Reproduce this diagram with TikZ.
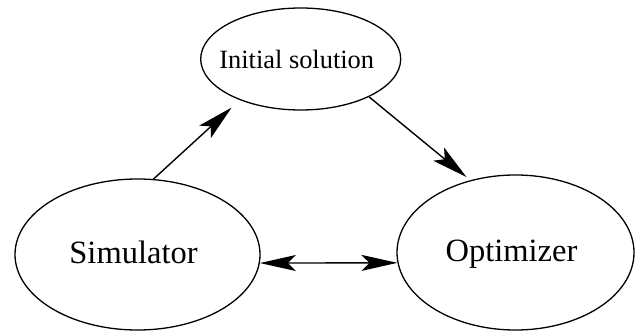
\documentclass[tikz,border=0pt]{standalone}
\usepackage{fontspec}
\setmainfont{Liberation Serif}
\usetikzlibrary{shapes.geometric,arrows.meta}

\tikzset{
  blob/.style={ellipse, draw, line width=1.3pt, inner sep=0pt},
  head/.style={Stealth[length=36pt,width=17pt,inset=8pt]},
  flow/.style={line width=1.4pt, -{Stealth[length=36pt,width=17pt,inset=8pt]}},
  twoway/.style={line width=1.4pt, {Stealth[length=36pt,width=16pt,inset=8pt]}-{Stealth[length=36pt,width=16pt,inset=8pt]}},
  % zero-height text box: the label's centre sits on its baseline
  flat/.style={text height=0pt, text depth=0pt, inner sep=0pt},
  small/.style={flat, font=\fontsize{26.4}{30}\selectfont},
  big/.style={flat, font=\fontsize{32.5}{36}\selectfont},
}

\begin{document}
\begin{tikzpicture}[x=1pt, y=-1pt]
  \useasboundingbox (0,0) rectangle (636,331);

  % the three stages
  \node[blob, minimum width=200pt, minimum height=102pt,
        label={[small, xshift=-4pt, yshift=-9.3pt]center:Initial solution}]
        (init) at (300.7,59) {};
  \node[blob, minimum width=245pt, minimum height=151pt,
        label={[big, xshift=-4pt, yshift=-8.5pt]center:Simulator}]
        (sim) at (137.5,254.5) {};
  \node[blob, minimum width=237pt, minimum height=155pt,
        label={[big, xshift=-4pt, yshift=-9.2pt]center:Optimizer}]
        (opt) at (515.5,252.5) {};

  % connections
  \draw[flow, shorten >=11pt] (sim.78.5) -- (init.214.3);
  \draw[flow, shorten >=5pt] (init.-29.4) -- (opt.122.7);
  \draw[twoway] (sim.-4) -- (opt.185.1);
\end{tikzpicture}
\end{document}
